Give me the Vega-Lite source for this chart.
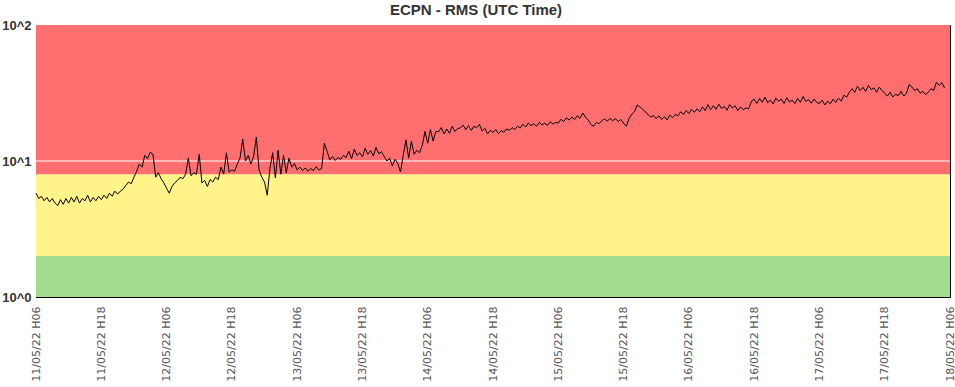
{
"$schema": "https://vega.github.io/schema/vega-lite/v6.json",
"width": 914, "height": 272,
"autosize": {"type": "none"},
"padding": {"left": 36, "top": 25, "right": 5, "bottom": 90},
"background": "white",
"title": {"text": "ECPN - RMS (UTC Time)", "font": "Liberation Sans", "fontSize": 15, "fontWeight": "bold", "color": "#333", "anchor": "middle", "offset": 1, "dx": -17},
"config": {"view": {"stroke": "#000", "strokeWidth": 1}},
"datasets": {
"zones": [{"zone": "green", "lo": 1, "hi": 2}, {"zone": "yellow", "lo": 2, "hi": 8}, {"zone": "red", "lo": 8, "hi": 100}],
"ref": [{"v": 10}],
"rms": [
{"t":"2022-05-11T06:00Z","v":5.8},{"t":"2022-05-11T06:30Z","v":5.3},{"t":"2022-05-11T07:00Z","v":5.5},{"t":"2022-05-11T07:30Z","v":5.1},
{"t":"2022-05-11T08:00Z","v":5.4},{"t":"2022-05-11T08:30Z","v":5.0},{"t":"2022-05-11T09:00Z","v":5.3},{"t":"2022-05-11T09:30Z","v":4.9},
{"t":"2022-05-11T10:00Z","v":4.7},{"t":"2022-05-11T10:30Z","v":5.2},{"t":"2022-05-11T11:00Z","v":4.8},{"t":"2022-05-11T11:30Z","v":5.3},
{"t":"2022-05-11T12:00Z","v":4.9},{"t":"2022-05-11T12:30Z","v":5.4},{"t":"2022-05-11T13:00Z","v":5.0},{"t":"2022-05-11T13:30Z","v":5.5},
{"t":"2022-05-11T14:00Z","v":4.9},{"t":"2022-05-11T14:30Z","v":5.3},{"t":"2022-05-11T15:00Z","v":5.1},{"t":"2022-05-11T15:30Z","v":5.6},
{"t":"2022-05-11T16:00Z","v":5.0},{"t":"2022-05-11T16:30Z","v":5.4},{"t":"2022-05-11T17:00Z","v":5.1},{"t":"2022-05-11T17:30Z","v":5.5},
{"t":"2022-05-11T18:00Z","v":5.2},{"t":"2022-05-11T18:30Z","v":5.6},{"t":"2022-05-11T19:00Z","v":5.3},{"t":"2022-05-11T19:30Z","v":5.8},
{"t":"2022-05-11T20:00Z","v":5.5},{"t":"2022-05-11T20:30Z","v":6.0},{"t":"2022-05-11T21:00Z","v":5.7},{"t":"2022-05-11T21:30Z","v":6.0},
{"t":"2022-05-11T22:00Z","v":6.2},{"t":"2022-05-11T22:30Z","v":6.6},{"t":"2022-05-11T23:00Z","v":7.0},{"t":"2022-05-11T23:30Z","v":6.8},
{"t":"2022-05-12T00:00Z","v":7.6},{"t":"2022-05-12T00:30Z","v":8.4},{"t":"2022-05-12T01:00Z","v":9.5},{"t":"2022-05-12T01:30Z","v":9.0},
{"t":"2022-05-12T02:00Z","v":11.0},{"t":"2022-05-12T02:30Z","v":10.4},{"t":"2022-05-12T03:00Z","v":11.6},{"t":"2022-05-12T03:30Z","v":11.2},
{"t":"2022-05-12T04:00Z","v":7.6},{"t":"2022-05-12T04:30Z","v":8.2},{"t":"2022-05-12T05:00Z","v":7.4},{"t":"2022-05-12T05:30Z","v":6.9},
{"t":"2022-05-12T06:00Z","v":6.3},{"t":"2022-05-12T06:30Z","v":5.8},{"t":"2022-05-12T07:00Z","v":6.5},{"t":"2022-05-12T07:30Z","v":6.9},
{"t":"2022-05-12T08:00Z","v":7.2},{"t":"2022-05-12T08:30Z","v":7.6},{"t":"2022-05-12T09:00Z","v":7.4},{"t":"2022-05-12T09:30Z","v":8.0},
{"t":"2022-05-12T10:00Z","v":10.5},{"t":"2022-05-12T10:30Z","v":7.8},{"t":"2022-05-12T11:00Z","v":8.2},{"t":"2022-05-12T11:30Z","v":8.0},
{"t":"2022-05-12T12:00Z","v":11.2},{"t":"2022-05-12T12:30Z","v":6.9},{"t":"2022-05-12T13:00Z","v":7.2},{"t":"2022-05-12T13:30Z","v":6.5},
{"t":"2022-05-12T14:00Z","v":7.3},{"t":"2022-05-12T14:30Z","v":7.0},{"t":"2022-05-12T15:00Z","v":7.6},{"t":"2022-05-12T15:30Z","v":7.3},
{"t":"2022-05-12T16:00Z","v":9.0},{"t":"2022-05-12T16:30Z","v":8.0},{"t":"2022-05-12T17:00Z","v":11.5},{"t":"2022-05-12T17:30Z","v":8.3},
{"t":"2022-05-12T18:00Z","v":8.6},{"t":"2022-05-12T18:30Z","v":8.4},{"t":"2022-05-12T19:00Z","v":9.5},{"t":"2022-05-12T19:30Z","v":10.5},
{"t":"2022-05-12T20:00Z","v":14.5},{"t":"2022-05-12T20:30Z","v":10.0},{"t":"2022-05-12T21:00Z","v":11.0},{"t":"2022-05-12T21:30Z","v":9.5},
{"t":"2022-05-12T22:00Z","v":10.8},{"t":"2022-05-12T22:30Z","v":15.0},{"t":"2022-05-12T23:00Z","v":8.6},{"t":"2022-05-12T23:30Z","v":7.6},
{"t":"2022-05-13T00:00Z","v":7.0},{"t":"2022-05-13T00:30Z","v":5.6},{"t":"2022-05-13T01:00Z","v":8.8},{"t":"2022-05-13T01:30Z","v":11.5},
{"t":"2022-05-13T02:00Z","v":7.5},{"t":"2022-05-13T02:30Z","v":12.0},{"t":"2022-05-13T03:00Z","v":8.0},{"t":"2022-05-13T03:30Z","v":11.0},
{"t":"2022-05-13T04:00Z","v":8.2},{"t":"2022-05-13T04:30Z","v":10.5},{"t":"2022-05-13T05:00Z","v":9.0},{"t":"2022-05-13T05:30Z","v":9.6},
{"t":"2022-05-13T06:00Z","v":8.6},{"t":"2022-05-13T06:30Z","v":9.0},{"t":"2022-05-13T07:00Z","v":8.5},{"t":"2022-05-13T07:30Z","v":8.9},
{"t":"2022-05-13T08:00Z","v":8.4},{"t":"2022-05-13T08:30Z","v":8.8},{"t":"2022-05-13T09:00Z","v":8.5},{"t":"2022-05-13T09:30Z","v":9.1},
{"t":"2022-05-13T10:00Z","v":8.6},{"t":"2022-05-13T10:30Z","v":8.8},{"t":"2022-05-13T11:00Z","v":13.5},{"t":"2022-05-13T11:30Z","v":11.8},
{"t":"2022-05-13T12:00Z","v":10.2},{"t":"2022-05-13T12:30Z","v":10.8},{"t":"2022-05-13T13:00Z","v":10.1},{"t":"2022-05-13T13:30Z","v":10.6},
{"t":"2022-05-13T14:00Z","v":10.3},{"t":"2022-05-13T14:30Z","v":11.0},{"t":"2022-05-13T15:00Z","v":10.6},{"t":"2022-05-13T15:30Z","v":11.8},
{"t":"2022-05-13T16:00Z","v":10.4},{"t":"2022-05-13T16:30Z","v":12.2},{"t":"2022-05-13T17:00Z","v":11.0},{"t":"2022-05-13T17:30Z","v":11.5},
{"t":"2022-05-13T18:00Z","v":10.7},{"t":"2022-05-13T18:30Z","v":12.4},{"t":"2022-05-13T19:00Z","v":11.2},{"t":"2022-05-13T19:30Z","v":11.9},
{"t":"2022-05-13T20:00Z","v":10.9},{"t":"2022-05-13T20:30Z","v":12.6},{"t":"2022-05-13T21:00Z","v":11.3},{"t":"2022-05-13T21:30Z","v":11.7},
{"t":"2022-05-13T22:00Z","v":10.8},{"t":"2022-05-13T22:30Z","v":10.0},{"t":"2022-05-13T23:00Z","v":10.5},{"t":"2022-05-13T23:30Z","v":9.2},
{"t":"2022-05-14T00:00Z","v":10.3},{"t":"2022-05-14T00:30Z","v":9.6},{"t":"2022-05-14T01:00Z","v":8.3},{"t":"2022-05-14T01:30Z","v":11.0},
{"t":"2022-05-14T02:00Z","v":14.3},{"t":"2022-05-14T02:30Z","v":10.5},{"t":"2022-05-14T03:00Z","v":14.0},{"t":"2022-05-14T03:30Z","v":11.2},
{"t":"2022-05-14T04:00Z","v":12.0},{"t":"2022-05-14T04:30Z","v":11.5},{"t":"2022-05-14T05:00Z","v":13.0},{"t":"2022-05-14T05:30Z","v":16.5},
{"t":"2022-05-14T06:00Z","v":13.5},{"t":"2022-05-14T06:30Z","v":17.0},{"t":"2022-05-14T07:00Z","v":14.0},{"t":"2022-05-14T07:30Z","v":16.5},
{"t":"2022-05-14T08:00Z","v":16.4},{"t":"2022-05-14T08:30Z","v":17.6},{"t":"2022-05-14T09:00Z","v":15.8},{"t":"2022-05-14T09:30Z","v":17.2},
{"t":"2022-05-14T10:00Z","v":16.0},{"t":"2022-05-14T10:30Z","v":18.0},{"t":"2022-05-14T11:00Z","v":16.5},{"t":"2022-05-14T11:30Z","v":17.3},
{"t":"2022-05-14T12:00Z","v":17.5},{"t":"2022-05-14T12:30Z","v":18.4},{"t":"2022-05-14T13:00Z","v":17.0},{"t":"2022-05-14T13:30Z","v":18.2},
{"t":"2022-05-14T14:00Z","v":16.8},{"t":"2022-05-14T14:30Z","v":18.0},{"t":"2022-05-14T15:00Z","v":17.6},{"t":"2022-05-14T15:30Z","v":18.6},
{"t":"2022-05-14T16:00Z","v":16.6},{"t":"2022-05-14T16:30Z","v":17.4},{"t":"2022-05-14T17:00Z","v":15.8},{"t":"2022-05-14T17:30Z","v":16.8},
{"t":"2022-05-14T18:00Z","v":16.2},{"t":"2022-05-14T18:30Z","v":17.0},{"t":"2022-05-14T19:00Z","v":15.9},{"t":"2022-05-14T19:30Z","v":16.7},
{"t":"2022-05-14T20:00Z","v":16.3},{"t":"2022-05-14T20:30Z","v":17.2},{"t":"2022-05-14T21:00Z","v":16.8},{"t":"2022-05-14T21:30Z","v":17.6},
{"t":"2022-05-14T22:00Z","v":17.0},{"t":"2022-05-14T22:30Z","v":18.0},{"t":"2022-05-14T23:00Z","v":17.5},{"t":"2022-05-14T23:30Z","v":18.6},
{"t":"2022-05-15T00:00Z","v":17.8},{"t":"2022-05-15T00:30Z","v":19.0},{"t":"2022-05-15T01:00Z","v":18.2},{"t":"2022-05-15T01:30Z","v":18.8},
{"t":"2022-05-15T02:00Z","v":18.0},{"t":"2022-05-15T02:30Z","v":19.2},{"t":"2022-05-15T03:00Z","v":18.4},{"t":"2022-05-15T03:30Z","v":19.0},
{"t":"2022-05-15T04:00Z","v":18.3},{"t":"2022-05-15T04:30Z","v":19.4},{"t":"2022-05-15T05:00Z","v":18.7},{"t":"2022-05-15T05:30Z","v":19.2},
{"t":"2022-05-15T06:00Z","v":19.0},{"t":"2022-05-15T06:30Z","v":20.3},{"t":"2022-05-15T07:00Z","v":19.5},{"t":"2022-05-15T07:30Z","v":20.8},
{"t":"2022-05-15T08:00Z","v":20.0},{"t":"2022-05-15T08:30Z","v":21.0},{"t":"2022-05-15T09:00Z","v":20.2},{"t":"2022-05-15T09:30Z","v":21.5},
{"t":"2022-05-15T10:00Z","v":20.6},{"t":"2022-05-15T10:30Z","v":22.5},{"t":"2022-05-15T11:00Z","v":21.0},{"t":"2022-05-15T11:30Z","v":20.0},
{"t":"2022-05-15T12:00Z","v":18.6},{"t":"2022-05-15T12:30Z","v":18.0},{"t":"2022-05-15T13:00Z","v":19.2},{"t":"2022-05-15T13:30Z","v":18.8},
{"t":"2022-05-15T14:00Z","v":19.8},{"t":"2022-05-15T14:30Z","v":20.4},{"t":"2022-05-15T15:00Z","v":19.6},{"t":"2022-05-15T15:30Z","v":20.6},
{"t":"2022-05-15T16:00Z","v":19.8},{"t":"2022-05-15T16:30Z","v":20.5},{"t":"2022-05-15T17:00Z","v":19.5},{"t":"2022-05-15T17:30Z","v":20.2},
{"t":"2022-05-15T18:00Z","v":19.0},{"t":"2022-05-15T18:30Z","v":18.0},{"t":"2022-05-15T19:00Z","v":20.5},{"t":"2022-05-15T19:30Z","v":22.0},
{"t":"2022-05-15T20:00Z","v":23.0},{"t":"2022-05-15T20:30Z","v":25.8},{"t":"2022-05-15T21:00Z","v":25.0},{"t":"2022-05-15T21:30Z","v":24.0},
{"t":"2022-05-15T22:00Z","v":23.0},{"t":"2022-05-15T22:30Z","v":22.0},{"t":"2022-05-15T23:00Z","v":21.0},{"t":"2022-05-15T23:30Z","v":21.6},
{"t":"2022-05-16T00:00Z","v":20.5},{"t":"2022-05-16T00:30Z","v":21.5},{"t":"2022-05-16T01:00Z","v":20.2},{"t":"2022-05-16T01:30Z","v":21.2},
{"t":"2022-05-16T02:00Z","v":20.0},{"t":"2022-05-16T02:30Z","v":21.8},{"t":"2022-05-16T03:00Z","v":20.8},{"t":"2022-05-16T03:30Z","v":22.0},
{"t":"2022-05-16T04:00Z","v":21.5},{"t":"2022-05-16T04:30Z","v":23.0},{"t":"2022-05-16T05:00Z","v":22.0},{"t":"2022-05-16T05:30Z","v":23.5},
{"t":"2022-05-16T06:00Z","v":22.3},{"t":"2022-05-16T06:30Z","v":24.0},{"t":"2022-05-16T07:00Z","v":22.8},{"t":"2022-05-16T07:30Z","v":24.2},
{"t":"2022-05-16T08:00Z","v":23.0},{"t":"2022-05-16T08:30Z","v":25.0},{"t":"2022-05-16T09:00Z","v":23.5},{"t":"2022-05-16T09:30Z","v":26.0},
{"t":"2022-05-16T10:00Z","v":23.8},{"t":"2022-05-16T10:30Z","v":25.5},{"t":"2022-05-16T11:00Z","v":24.0},{"t":"2022-05-16T11:30Z","v":26.2},
{"t":"2022-05-16T12:00Z","v":24.3},{"t":"2022-05-16T12:30Z","v":25.2},{"t":"2022-05-16T13:00Z","v":23.6},{"t":"2022-05-16T13:30Z","v":26.0},
{"t":"2022-05-16T14:00Z","v":24.5},{"t":"2022-05-16T14:30Z","v":25.5},{"t":"2022-05-16T15:00Z","v":23.5},{"t":"2022-05-16T15:30Z","v":25.0},
{"t":"2022-05-16T16:00Z","v":23.8},{"t":"2022-05-16T16:30Z","v":24.6},{"t":"2022-05-16T17:00Z","v":24.2},{"t":"2022-05-16T17:30Z","v":27.5},
{"t":"2022-05-16T18:00Z","v":28.5},{"t":"2022-05-16T18:30Z","v":26.5},{"t":"2022-05-16T19:00Z","v":28.8},{"t":"2022-05-16T19:30Z","v":27.0},
{"t":"2022-05-16T20:00Z","v":29.5},{"t":"2022-05-16T20:30Z","v":26.8},{"t":"2022-05-16T21:00Z","v":28.0},{"t":"2022-05-16T21:30Z","v":26.2},
{"t":"2022-05-16T22:00Z","v":29.0},{"t":"2022-05-16T22:30Z","v":27.5},{"t":"2022-05-16T23:00Z","v":28.5},{"t":"2022-05-16T23:30Z","v":26.5},
{"t":"2022-05-17T00:00Z","v":29.2},{"t":"2022-05-17T00:30Z","v":27.2},{"t":"2022-05-17T01:00Z","v":28.0},{"t":"2022-05-17T01:30Z","v":26.5},
{"t":"2022-05-17T02:00Z","v":28.8},{"t":"2022-05-17T02:30Z","v":27.0},{"t":"2022-05-17T03:00Z","v":29.8},{"t":"2022-05-17T03:30Z","v":27.4},
{"t":"2022-05-17T04:00Z","v":28.2},{"t":"2022-05-17T04:30Z","v":26.6},{"t":"2022-05-17T05:00Z","v":28.5},{"t":"2022-05-17T05:30Z","v":27.0},
{"t":"2022-05-17T06:00Z","v":26.5},{"t":"2022-05-17T06:30Z","v":28.0},{"t":"2022-05-17T07:00Z","v":25.8},{"t":"2022-05-17T07:30Z","v":27.5},
{"t":"2022-05-17T08:00Z","v":26.4},{"t":"2022-05-17T08:30Z","v":28.4},{"t":"2022-05-17T09:00Z","v":27.0},{"t":"2022-05-17T09:30Z","v":29.0},
{"t":"2022-05-17T10:00Z","v":27.5},{"t":"2022-05-17T10:30Z","v":30.5},{"t":"2022-05-17T11:00Z","v":29.5},{"t":"2022-05-17T11:30Z","v":32.0},
{"t":"2022-05-17T12:00Z","v":34.0},{"t":"2022-05-17T12:30Z","v":32.0},{"t":"2022-05-17T13:00Z","v":35.5},{"t":"2022-05-17T13:30Z","v":33.0},
{"t":"2022-05-17T14:00Z","v":34.8},{"t":"2022-05-17T14:30Z","v":32.5},{"t":"2022-05-17T15:00Z","v":36.0},{"t":"2022-05-17T15:30Z","v":33.5},
{"t":"2022-05-17T16:00Z","v":34.5},{"t":"2022-05-17T16:30Z","v":32.0},{"t":"2022-05-17T17:00Z","v":35.0},{"t":"2022-05-17T17:30Z","v":33.0},
{"t":"2022-05-17T18:00Z","v":31.5},{"t":"2022-05-17T18:30Z","v":30.0},{"t":"2022-05-17T19:00Z","v":32.0},{"t":"2022-05-17T19:30Z","v":29.5},
{"t":"2022-05-17T20:00Z","v":31.0},{"t":"2022-05-17T20:30Z","v":30.2},{"t":"2022-05-17T21:00Z","v":32.5},{"t":"2022-05-17T21:30Z","v":30.0},
{"t":"2022-05-17T22:00Z","v":31.5},{"t":"2022-05-17T22:30Z","v":36.5},{"t":"2022-05-17T23:00Z","v":35.0},{"t":"2022-05-17T23:30Z","v":33.0},
{"t":"2022-05-18T00:00Z","v":34.0},{"t":"2022-05-18T00:30Z","v":31.5},{"t":"2022-05-18T01:00Z","v":32.5},{"t":"2022-05-18T01:30Z","v":30.8},
{"t":"2022-05-18T02:00Z","v":32.0},{"t":"2022-05-18T02:30Z","v":34.0},{"t":"2022-05-18T03:00Z","v":33.0},{"t":"2022-05-18T03:30Z","v":38.0},
{"t":"2022-05-18T04:00Z","v":36.0},{"t":"2022-05-18T04:30Z","v":37.5},{"t":"2022-05-18T05:00Z","v":34.5}
]
},
"layer": [
{
"data": {"name": "zones"},
"mark": {"type": "rect"},
"encoding": {
"y": {"field": "lo", "type": "quantitative", "scale": {"type": "log", "domain": [1, 100], "nice": false},
"axis": {"values": [1, 10, 100], "labelExpr": "'10^' + round(log(datum.value) / LN10)", "labelFont": "Liberation Sans", "labelFontSize": 13, "labelFontWeight": "bold", "labelColor": "#333", "ticks": false, "grid": false, "domainColor": "#000", "labelPadding": 5, "title": null}},
"y2": {"field": "hi"},
"color": {"field": "zone", "type": "nominal", "scale": {"domain": ["green", "yellow", "red"], "range": ["#A1DC8F", "#FFF38A", "#FF6F6F"]}, "legend": null}
}
},
{
"data": {"name": "ref"},
"mark": {"type": "rule", "color": "#ffffff", "strokeWidth": 1},
"encoding": {"y": {"field": "v", "type": "quantitative"}}
},
{
"data": {"name": "rms"},
"mark": {"type": "line", "color": "#000", "strokeWidth": 1},
"encoding": {
"x": {"field": "t", "type": "temporal",
"scale": {"type": "utc", "domain": [{"year": 2022, "month": 5, "date": 11, "hours": 6, "utc": true}, {"year": 2022, "month": 5, "date": 18, "hours": 6, "utc": true}]},
"axis": {"values": [
{"year": 2022, "month": 5, "date": 11, "hours": 6, "utc": true}, {"year": 2022, "month": 5, "date": 11, "hours": 18, "utc": true},
{"year": 2022, "month": 5, "date": 12, "hours": 6, "utc": true}, {"year": 2022, "month": 5, "date": 12, "hours": 18, "utc": true},
{"year": 2022, "month": 5, "date": 13, "hours": 6, "utc": true}, {"year": 2022, "month": 5, "date": 13, "hours": 18, "utc": true},
{"year": 2022, "month": 5, "date": 14, "hours": 6, "utc": true}, {"year": 2022, "month": 5, "date": 14, "hours": 18, "utc": true},
{"year": 2022, "month": 5, "date": 15, "hours": 6, "utc": true}, {"year": 2022, "month": 5, "date": 15, "hours": 18, "utc": true},
{"year": 2022, "month": 5, "date": 16, "hours": 6, "utc": true}, {"year": 2022, "month": 5, "date": 16, "hours": 18, "utc": true},
{"year": 2022, "month": 5, "date": 17, "hours": 6, "utc": true}, {"year": 2022, "month": 5, "date": 17, "hours": 18, "utc": true},
{"year": 2022, "month": 5, "date": 18, "hours": 6, "utc": true}],
"format": "%d/%m/%y H%H", "labelAngle": -90, "labelFont": "DejaVu Sans", "labelFontSize": 11, "labelColor": "#555", "ticks": false, "grid": false, "domainColor": "#000", "labelPadding": 9, "title": null, "labelOverlap": false, "labelBound": false, "labelFlush": false}},
"y": {"field": "v", "type": "quantitative"}
}
}
]
}
